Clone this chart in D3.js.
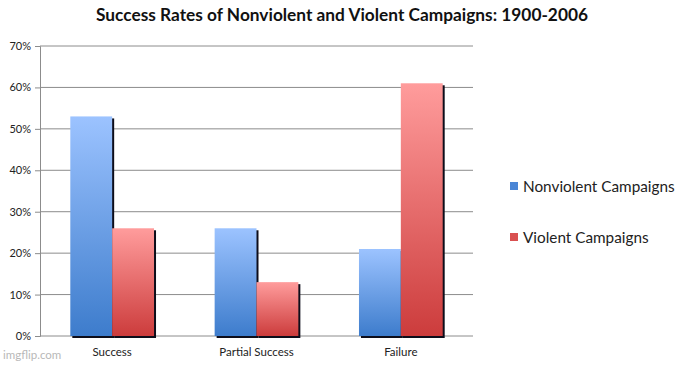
<!DOCTYPE html>
<html>
<head>
<meta charset="utf-8">
<script src="https://cdn.jsdelivr.net/npm/d3@7"></script>
<style>
  body { margin: 0; background: #fff; }
  text { font-family: Lato, "Open Sans", sans-serif; }
</style>
</head>
<body>
<div id="chart"></div>
<script>
const categories = ["Success", "Partial Success", "Failure"];
const seriesNames = ["Nonviolent Campaigns", "Violent Campaigns"];
const nonviolent = [0.53, 0.26, 0.21];
const violent = [0.26, 0.13, 0.61];
const yTicks = [0, 0.1, 0.2, 0.3, 0.4, 0.5, 0.6, 0.7];

const width = 683, height = 365;
const margin = {top: 46, right: 210, bottom: 29, left: 40};
const w = width - margin.left - margin.right;
const h = height - margin.top - margin.bottom;

const svg = d3.select("#chart").append("svg")
  .attr("width", width)
  .attr("height", height);

// gradients
const defs = svg.append("defs");
const grads = [
  {id: "gBlue", top: "#9cc3ff", bottom: "#3d7ccc"},
  {id: "gRed", top: "#ff9c9c", bottom: "#cc3c3c"}
];
grads.forEach(g => {
  const lg = defs.append("linearGradient").attr("id", g.id)
    .attr("x1", 0).attr("y1", 0).attr("x2", 0).attr("y2", 1);
  lg.append("stop").attr("offset", "0%").attr("stop-color", g.top);
  lg.append("stop").attr("offset", "100%").attr("stop-color", g.bottom);
});

svg.append("text")
  .attr("x", 342).attr("y", 21)
  .attr("text-anchor", "middle")
  .attr("font-size", 17.3)
  .attr("font-weight", "bold")
  .attr("fill", "#111")
  .text("Success Rates of Nonviolent and Violent Campaigns: 1900-2006");

const g = svg.append("g")
  .attr("transform", "translate(" + margin.left + "," + margin.top + ")");

const x0 = d3.scaleBand().domain(categories).range([0, w]).paddingInner(0.42).paddingOuter(0.21);
const x1 = d3.scaleBand().domain(seriesNames).range([0, x0.bandwidth()]);
const y = d3.scaleLinear().domain([0, 0.7]).range([h, 0]);

// gridlines
g.append("g").selectAll("line").data(yTicks).join("line")
  .attr("x1", 0).attr("x2", w)
  .attr("y1", d => y(d)).attr("y2", d => y(d))
  .attr("stroke", "#8c8c8c").attr("stroke-width", 1);

// y axis
const yAxis = g.append("g")
  .call(d3.axisLeft(y).tickValues(yTicks).tickFormat(d3.format(".0%")).tickSize(5));
yAxis.select(".domain").attr("stroke", "#8c8c8c");
yAxis.selectAll(".tick line").attr("stroke", "#8c8c8c");
yAxis.selectAll("text").attr("font-size", 11).attr("fill", "#222").attr("x", -9);

// bars
const rows = categories.map((c, i) => ({cat: c, vals: [nonviolent[i], violent[i]]}));
const colors = ["url(#gBlue)", "url(#gRed)"];

const grp = g.append("g").selectAll("g").data(rows).join("g")
  .attr("transform", d => "translate(" + x0(d.cat) + ",0)");

// shadows
grp.selectAll("rect.shadow").data(d => d.vals.map((v, j) => ({v, j}))).join("rect")
  .attr("class", "shadow")
  .attr("x", d => x1(seriesNames[d.j]) + 2)
  .attr("y", d => y(d.v) + 2)
  .attr("width", x1.bandwidth())
  .attr("height", d => h - y(d.v))
  .attr("fill", "#0d0d1a");

grp.selectAll("rect.bar").data(d => d.vals.map((v, j) => ({v, j}))).join("rect")
  .attr("class", "bar")
  .attr("x", d => x1(seriesNames[d.j]))
  .attr("y", d => y(d.v))
  .attr("width", x1.bandwidth())
  .attr("height", d => h - y(d.v))
  .attr("fill", d => colors[d.j]);

// x labels
g.append("g").selectAll("text").data(categories).join("text")
  .attr("x", d => x0(d) + x0.bandwidth() / 2)
  .attr("y", h + 20)
  .attr("text-anchor", "middle")
  .attr("font-size", 11.5)
  .attr("fill", "#222")
  .text(d => d);

// legend
const legColors = ["#4a86d6", "#d95050"];
const leg = svg.append("g").selectAll("g").data(seriesNames).join("g")
  .attr("transform", (d, i) => "translate(510," + (186 + i * 51) + ")");
leg.append("rect")
  .attr("x", 0).attr("y", -4).attr("width", 8).attr("height", 8)
  .attr("fill", (d, i) => legColors[i]);
leg.append("text")
  .attr("x", 13).attr("y", 5.5)
  .attr("font-size", 15.3)
  .attr("fill", "#222")
  .text(d => d);

// watermark
svg.append("text")
  .attr("x", 3).attr("y", 359)
  .attr("font-size", 11.5)
  .attr("fill", "#b8b8b8")
  .text("imgflip.com");
</script>
</body>
</html>
